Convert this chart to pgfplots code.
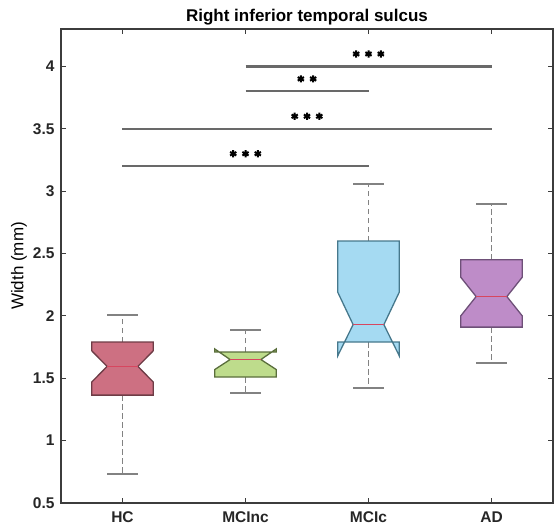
\documentclass[border=0pt]{standalone}
\usepackage{pgfplots}
\pgfplotsset{compat=1.18}
\usepackage{fontspec}
\setmainfont{Liberation Sans}
\definecolor{hcF}{RGB}{205,112,130}\definecolor{hcE}{RGB}{110,60,70}
\definecolor{ncF}{RGB}{190,220,140}\definecolor{ncE}{RGB}{90,110,60}
\definecolor{cF}{RGB}{165,218,242}\definecolor{cE}{RGB}{70,120,140}
\definecolor{adF}{RGB}{190,140,200}\definecolor{adE}{RGB}{110,80,120}
\definecolor{medC}{RGB}{215,70,95}
\definecolor{whC}{RGB}{130,130,130}
\definecolor{sigC}{RGB}{105,105,105}
\definecolor{axC}{RGB}{60,60,60}
\begin{document}
\begin{tikzpicture}
\begin{axis}[name=ax, scale only axis, width=492pt, height=474pt,
  xmin=0.5, xmax=4.5, ymin=0.5, ymax=4.3,
  xtick={1,2,3,4}, xticklabels={HC,MCInc,MCIc,AD},
  ytick={0.5,1,1.5,2,2.5,3,3.5,4},
  tick align=inside, tick pos=both, major tick length=5pt,
  axis line style={axC, line width=1.3pt},
  every tick/.style={axC, line width=1.1pt},
  /pgf/number format/assume math mode=true,
  ticklabel style={font=\fontsize{15.5}{18}\selectfont\bfseries, text=black!85},
  xticklabel style={anchor=base, yshift=-19pt},
  yticklabel style={anchor=east, xshift=-3pt},
  title={Right inferior temporal sulcus},
  every axis title/.style={at={(rel axis cs:0.5,1)}, anchor=base, yshift=7pt, inner sep=0pt, font=\fontsize{17}{20}\selectfont\bfseries},
  ylabel={Width (mm)},
  every axis y label/.style={at={(rel axis cs:0,0.5)}, xshift=-42pt, rotate=90, anchor=center, font=\fontsize{17}{20}\selectfont},
  clip=false]
% ---- whiskers (dashed) ----
\pgfplotsset{wh/.style={whC, line width=1.8pt, dash pattern=on 5.5pt off 3.5pt}, cap/.style={whC, line width=1.8pt}}
\addplot[wh] coordinates {(1,1.79) (1,2.01)};
\addplot[wh] coordinates {(1,1.365) (1,0.73)};
\addplot[wh] coordinates {(2,1.71) (2,1.885)};
\addplot[wh] coordinates {(2,1.51) (2,1.38)};
\addplot[wh] coordinates {(3,2.60) (3,3.06)};
\addplot[wh] coordinates {(3,1.79) (3,1.42)};
\addplot[wh] coordinates {(4,2.45) (4,2.90)};
\addplot[wh] coordinates {(4,1.91) (4,1.62)};
% caps
\addplot[cap] coordinates {(0.875,2.01) (1.125,2.01)};
\addplot[cap] coordinates {(0.875,0.73) (1.125,0.73)};
\addplot[cap] coordinates {(1.875,1.885) (2.125,1.885)};
\addplot[cap] coordinates {(1.875,1.38) (2.125,1.38)};
\addplot[cap] coordinates {(2.875,3.06) (3.125,3.06)};
\addplot[cap] coordinates {(2.875,1.42) (3.125,1.42)};
\addplot[cap] coordinates {(3.875,2.90) (4.125,2.90)};
\addplot[cap] coordinates {(3.875,1.62) (4.125,1.62)};
% ---- notched boxes ----
\addplot[draw=hcE, fill=hcF, line width=1.3pt] coordinates {(0.75,1.365) (0.75,1.47) (0.875,1.595) (0.75,1.72) (0.75,1.79) (1.25,1.79) (1.25,1.72) (1.125,1.595) (1.25,1.47) (1.25,1.365)} --cycle;
\addplot[draw=ncE, fill=ncF, line width=1.3pt] coordinates {(1.75,1.51) (1.75,1.57) (1.875,1.65) (1.75,1.735) (1.75,1.71) (2.25,1.71) (2.25,1.735) (2.125,1.65) (2.25,1.57) (2.25,1.51)} --cycle;
\addplot[draw=cE, fill=cF, line width=1.3pt] coordinates {(2.75,1.79) (2.75,1.68) (2.875,1.93) (2.75,2.19) (2.75,2.60) (3.25,2.60) (3.25,2.19) (3.125,1.93) (3.25,1.68) (3.25,1.79)} --cycle;
\addplot[draw=adE, fill=adF, line width=1.3pt] coordinates {(3.75,1.91) (3.75,2.00) (3.875,2.155) (3.75,2.31) (3.75,2.45) (4.25,2.45) (4.25,2.31) (4.125,2.155) (4.25,2.00) (4.25,1.91)} --cycle;
% medians
\addplot[medC, line width=1.4pt] coordinates {(0.875,1.595) (1.125,1.595)};
\addplot[medC, line width=1.4pt] coordinates {(1.875,1.65) (2.125,1.65)};
\addplot[medC, line width=1.4pt] coordinates {(2.875,1.93) (3.125,1.93)};
\addplot[medC, line width=1.4pt] coordinates {(3.875,2.155) (4.125,2.155)};
% ---- significance bars ----
\addplot[sigC, line width=2.2pt] coordinates {(1,3.2) (3,3.2)};
\addplot[sigC, line width=2.2pt] coordinates {(1,3.5) (4,3.5)};
\addplot[sigC, line width=2.2pt] coordinates {(2,3.8) (3,3.8)};
\addplot[sigC, line width=2.2pt] coordinates {(2,4.0) (4,4.0)};
\pgfplotsset{st/.style={only marks, mark=asterisk, mark size=3.6pt, black, line width=2pt}}
\addplot[st] coordinates {(1.9,3.3) (2.0,3.3) (2.1,3.3)};
\addplot[st] coordinates {(2.4,3.6) (2.5,3.6) (2.6,3.6)};
\addplot[st] coordinates {(2.45,3.9) (2.55,3.9)};
\addplot[st] coordinates {(2.9,4.1) (3.0,4.1) (3.1,4.1)};
\end{axis}
\pgfresetboundingbox
\path ([shift={(-61pt,-27pt)}]ax.south west) rectangle ([shift={(1pt,29pt)}]ax.north east);
\end{tikzpicture}
\end{document}
